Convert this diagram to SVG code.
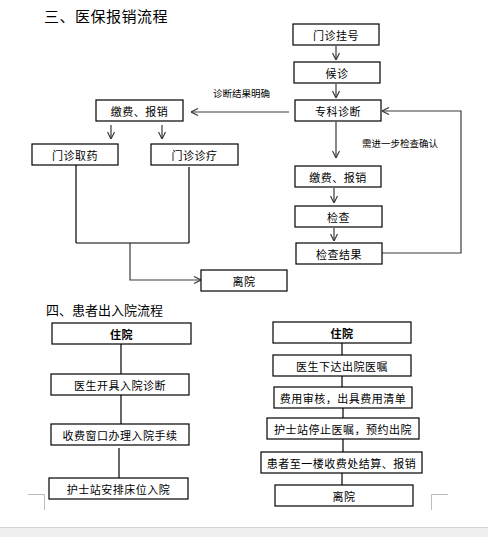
<svg xmlns="http://www.w3.org/2000/svg" width="488" height="537" viewBox="0 0 488 537">
<style>
  .box rect { fill: #fff; stroke: #000; stroke-width: 1.2; }
  .box text { font-family: "Noto Sans CJK SC", "Liberation Sans", sans-serif; font-size: 11px; fill: #000; text-anchor: middle; dominant-baseline: central; letter-spacing: 0.5px; }
  .box text.b { font-weight: bold; }
  .title { font-family: "Noto Sans CJK SC", "Liberation Sans", sans-serif; fill: #000; }
  .lbl { font-family: "Noto Sans CJK SC", "Liberation Sans", sans-serif; font-size: 9.5px; fill: #000; }
  #connectors line, #connectors polyline { stroke: #3a3a3a; stroke-width: 1.2; fill: none; }
  #connectors .solid { stroke: #000; }
</style>
<defs>
  <marker id="ah" viewBox="0 0 8 8" refX="8" refY="4" markerWidth="8" markerHeight="8" markerUnits="userSpaceOnUse" orient="auto">
    <path d="M1,0.5 L8,4 L1,7.5" fill="none" stroke="#3a3a3a" stroke-width="1.2"/>
  </marker>
</defs>
<rect width="488" height="537" fill="#fff"/>

<text class="title" x="44" y="22" font-size="15" letter-spacing="0.5">三、医保报销流程</text>
<text class="title" x="46" y="315" font-size="13">四、患者出入院流程</text>

<g id="connectors">
  <line x1="336" y1="46" x2="336" y2="60" marker-end="url(#ah)"/>
  <line x1="336" y1="84" x2="336" y2="98" marker-end="url(#ah)"/>
  <line x1="336" y1="122" x2="336" y2="158" marker-end="url(#ah)"/>
  <line x1="334" y1="188" x2="334" y2="203" marker-end="url(#ah)"/>
  <line x1="334" y1="228" x2="334" y2="241" marker-end="url(#ah)"/>
  <line x1="289" y1="112" x2="191" y2="112" marker-end="url(#ah)"/>
  <polyline points="382,253 461,253 461,111 382,111" marker-end="url(#ah)"/>
  <line x1="111" y1="125" x2="111" y2="139" marker-end="url(#ah)"/>
  <line x1="162" y1="125" x2="162" y2="139" marker-end="url(#ah)"/>
  <line class="solid" x1="76" y1="165" x2="76" y2="243"/>
  <line class="solid" x1="189" y1="167" x2="189" y2="243"/>
  <line class="solid" x1="76" y1="243" x2="189" y2="243"/>
  <polyline points="130,243 130,280 201,280" marker-end="url(#ah)"/>

  <line class="solid" x1="121" y1="344" x2="121" y2="374"/>
  <line class="solid" x1="121" y1="395" x2="121" y2="424"/>
  <line class="solid" x1="119" y1="448" x2="119" y2="478"/>

  <line class="solid" x1="342" y1="343" x2="342" y2="355"/>
  <line class="solid" x1="342" y1="376" x2="342" y2="387"/>
  <line class="solid" x1="343" y1="408" x2="343" y2="418"/>
  <line class="solid" x1="343" y1="439" x2="343" y2="452"/>
  <line class="solid" x1="342" y1="473" x2="342" y2="485"/>
</g>

<text class="lbl" x="213" y="97">诊断结果明确</text>
<text class="lbl" x="362" y="147">需进一步检查确认</text>

<g id="n-guahao" class="box"><rect x="293" y="24" width="86" height="21"/><text x="336" y="34.5">门诊挂号</text></g>
<g id="n-houzhen" class="box"><rect x="294" y="62" width="86" height="21"/><text x="337" y="72.5">候诊</text></g>
<g id="n-zhuanke" class="box"><rect x="295" y="100" width="86" height="21"/><text x="338" y="110.5">专科诊断</text></g>
<g id="n-jiaofei1" class="box"><rect x="96" y="100" width="87" height="21"/><text x="139.5" y="110.5">缴费、报销</text></g>
<g id="n-quyao" class="box"><rect x="32" y="144" width="86" height="21"/><text x="75" y="154.5">门诊取药</text></g>
<g id="n-zhenliao" class="box"><rect x="151" y="144" width="87" height="21"/><text x="194.5" y="154.5">门诊诊疗</text></g>
<g id="n-jiaofei2" class="box"><rect x="295" y="166" width="86" height="21"/><text x="338" y="176.5">缴费、报销</text></g>
<g id="n-jiancha" class="box"><rect x="295" y="206" width="87" height="21"/><text x="338.5" y="216.5">检查</text></g>
<g id="n-jieguo" class="box"><rect x="296" y="243" width="86" height="21"/><text x="339" y="253.5">检查结果</text></g>
<g id="n-liyuan1" class="box"><rect x="201" y="270" width="86" height="21"/><text x="244" y="280.5">离院</text></g>

<g id="n-zhuyuan-l" class="box"><rect x="52" y="323" width="139" height="21"/><text class="b" x="121.5" y="333.5">住院</text></g>
<g id="n-kaiju" class="box"><rect x="51" y="374" width="138" height="21"/><text x="120" y="384.5">医生开具入院诊断</text></g>
<g id="n-shoufei" class="box"><rect x="51" y="424" width="138" height="21"/><text x="120" y="434.5">收费窗口办理入院手续</text></g>
<g id="n-anpai" class="box"><rect x="49" y="478" width="139" height="21"/><text x="118.5" y="488.5">护士站安排床位入院</text></g>

<g id="n-zhuyuan-r" class="box"><rect x="273" y="322" width="138" height="21"/><text class="b" x="342" y="332.5">住院</text></g>
<g id="n-xiada" class="box"><rect x="273" y="355" width="138" height="21"/><text x="342" y="365.5">医生下达出院医嘱</text></g>
<g id="n-shenhe" class="box"><rect x="274" y="387" width="138" height="21"/><text x="343" y="397.5">费用审核，出具费用清单</text></g>
<g id="n-tingzhi" class="box"><rect x="267" y="418" width="152" height="21"/><text x="343" y="428.5">护士站停止医嘱，预约出院</text></g>
<g id="n-jiesuan" class="box"><rect x="261" y="452" width="161" height="21"/><text x="341.5" y="462.5">患者至一楼收费处结算、报销</text></g>
<g id="n-liyuan2" class="box"><rect x="275" y="485" width="138" height="21"/><text x="344" y="495.5">离院</text></g>

<g id="page-marks" fill="none" stroke="#bdbdbd" stroke-width="1">
  <polyline points="28,494.5 44.5,494.5 44.5,510"/>
  <polyline points="448,494.5 431.5,494.5 431.5,510"/>
</g>
<rect x="0" y="527" width="488" height="10" fill="#f0f0f0"/>
<line x1="0" y1="527.5" x2="488" y2="527.5" stroke="#d4d4d4" stroke-width="1"/>
</svg>
